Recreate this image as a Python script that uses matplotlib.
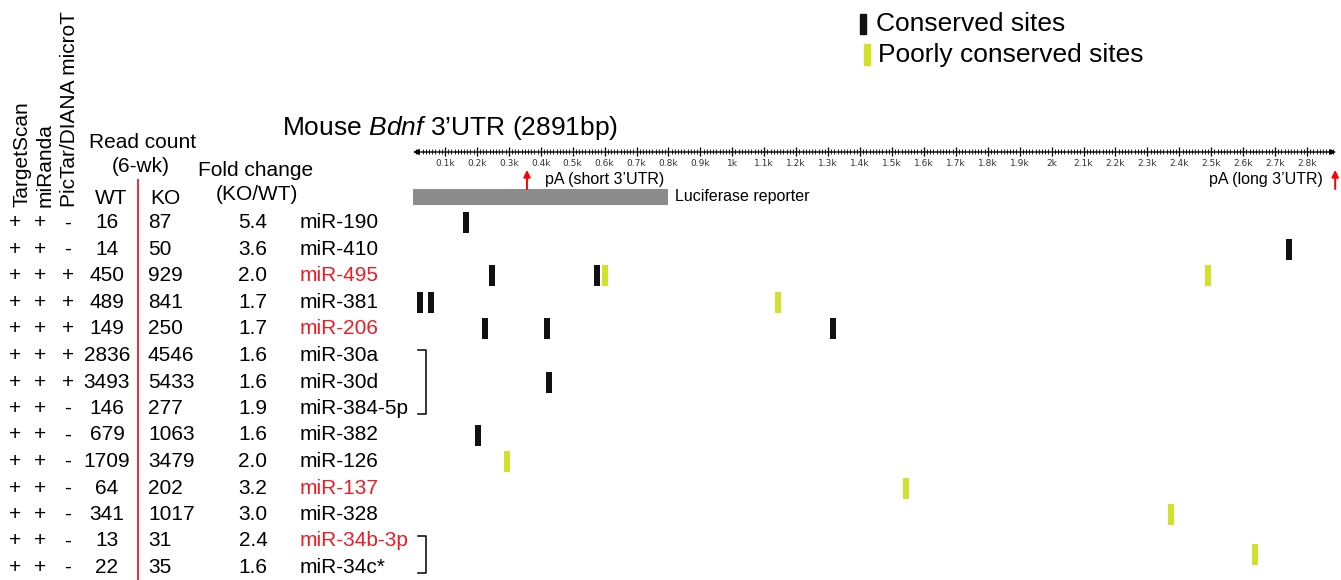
import numpy as np
import matplotlib.pyplot as plt
from matplotlib.transforms import blended_transform_factory
from matplotlib.patches import Rectangle

plt.rcParams['font.family'] = ['Liberation Sans', 'DejaVu Sans']
plt.rcParams['mathtext.fontset'] = 'custom'
plt.rcParams['mathtext.rm'] = 'Liberation Sans'
plt.rcParams['mathtext.it'] = 'Liberation Sans:italic'

# ============ data ============
mirnas = ['miR-190', 'miR-410', 'miR-495', 'miR-381', 'miR-206', 'miR-30a', 'miR-30d',
          'miR-384-5p', 'miR-382', 'miR-126', 'miR-137', 'miR-328', 'miR-34b-3p', 'miR-34c*']
target_scan = ['+'] * 14
miranda = ['+'] * 14
pictar = ['-', '-', '+', '+', '+', '+', '+', '-', '-', '-', '-', '-', '-', '-']
wt_counts = [16, 14, 450, 489, 149, 2836, 3493, 146, 679, 1709, 64, 341, 13, 22]
ko_counts = [87, 50, 929, 841, 250, 4546, 5433, 277, 1063, 3479, 202, 1017, 31, 35]
fold_change = [5.4, 3.6, 2.0, 1.7, 1.7, 1.6, 1.6, 1.9, 1.6, 2.0, 3.2, 3.0, 2.4, 1.6]
highlighted = ['miR-495', 'miR-206', 'miR-137', 'miR-34b-3p']
families = [(5, 7), (12, 13)]  # rows sharing a seed (bracketed)

utr_len = 2891
ruler_ticks = np.arange(100, 2900, 100)
ruler_labels = [f'{t / 1000:g}k' for t in ruler_ticks]
pa_sites = [357, 2888]
reporter_end = 800

# binding sites: row, position (bp), conserved?
site_row = [0, 1, 2, 2, 2, 2, 3, 3, 3, 4, 4, 4, 6, 8, 9, 10, 11, 12.5]
site_bp = [166, 2743, 247, 576, 601, 2490, 22, 56, 1143, 225, 420, 1315, 426, 204, 294, 1544, 2374, 2637]
site_cons = [1, 1, 1, 1, 0, 0, 1, 1, 0, 1, 1, 1, 1, 1, 0, 0, 0, 0]

BLACK = '#111111'
LIME = '#d2e12c'
RED = '#ee1c24'

# ============ layout ============
W, H = 1341, 580
ROW0, ROWH = 223, 26.5


def py(px):
    """pixel y -> row units"""
    return (px - ROW0) / ROWH


fig = plt.figure(figsize=(W / 100, H / 100), dpi=100)
bg = fig.add_axes([0, 0, 1, 1])
bg.set_xlim(0, W)
bg.set_ylim(H, 0)
bg.axis('off')

x0, scale = 413, 0.3193
ax = fig.add_axes([x0 / W, 0, utr_len * scale / W, 1])
ax.set_xlim(0, utr_len)
ax.set_ylim(py(H), py(0))
ax.axis('off')

tr = blended_transform_factory(bg.transData, ax.transData)

# ---- table headers ----
FS = 15
for x, lab in [(22, 'TargetScan'), (45, 'miRanda'), (70, 'PicTar/DIANA microT')]:
    bg.text(x, 207, lab, rotation=90, ha='center', va='bottom', fontsize=FS)
bg.text(143, 142, 'Read count', ha='center', va='center', fontsize=FS)
bg.text(141, 166, '(6-wk)', ha='center', va='center', fontsize=FS)
bg.text(111, 198, 'WT', ha='center', va='center', fontsize=FS)
bg.text(165, 198, 'KO', ha='center', va='center', fontsize=FS)
bg.text(256, 170, 'Fold change', ha='center', va='center', fontsize=FS)
bg.text(257, 195, '(KO/WT)', ha='center', va='center', fontsize=FS)
bg.plot([138, 138], [180, H], color=RED, lw=1.3)

# ---- table rows ----
for i, name in enumerate(mirnas):
    bg.text(15, i, target_scan[i], transform=tr, ha='center', va='center', fontsize=FS)
    bg.text(40, i, miranda[i], transform=tr, ha='center', va='center', fontsize=FS)
    bg.text(68, i, pictar[i], transform=tr, ha='center', va='center', fontsize=FS)
    bg.text(107, i, str(wt_counts[i]), transform=tr, ha='center', va='center', fontsize=FS)
    bg.text(148, i, str(ko_counts[i]), transform=tr, ha='left', va='center', fontsize=FS)
    bg.text(253, i, f'{fold_change[i]:.1f}', transform=tr, ha='center', va='center', fontsize=FS)
    bg.text(300, i, name, transform=tr, ha='left', va='center', fontsize=FS,
            color=RED if name in highlighted else 'black')

for a, b in families:
    top, bot = a - 0.2, b + 0.2
    bg.plot([418, 426, 426, 418], [top, top, bot, bot], transform=tr, color='black', lw=1.1)

# ---- title & legend ----
bg.text(282, 128, r'Mouse $\it{Bdnf}$ 3’UTR (2891bp)', ha='left', va='center', fontsize=19)
bg.add_patch(Rectangle((860, 14), 6, 20, color=BLACK))
bg.text(876, 24, 'Conserved sites', ha='left', va='center', fontsize=19)
bg.add_patch(Rectangle((864, 44), 6, 21, color=LIME))
bg.text(878, 55, 'Poorly conserved sites', ha='left', va='center', fontsize=19)

# ---- ruler ----
yr = py(152)
ax.annotate('', xy=(utr_len, yr), xytext=(0, yr),
            arrowprops=dict(arrowstyle='<|-|>', color='black', lw=1.0, mutation_scale=8,
                            shrinkA=0, shrinkB=0), annotation_clip=False)
minor = np.arange(10, utr_len, 10)
ax.vlines(minor, yr - 2.5 / ROWH, yr + 2.5 / ROWH, color='#222222', lw=0.7)
ax.vlines(ruler_ticks, yr - 4.5 / ROWH, yr + 4.5 / ROWH, color='black', lw=0.9)
for t, lab in zip(ruler_ticks, ruler_labels):
    ax.text(t, py(163.5), lab, ha='center', va='center', fontsize=6.5, family='DejaVu Sans',
            color='#333333')

# ---- pA sites and reporter ----
for bp in pa_sites:
    ax.annotate('', xy=(bp, py(170)), xytext=(bp, py(189)),
                arrowprops=dict(arrowstyle='-|>', color='red', lw=1.4, mutation_scale=10,
                                shrinkA=0, shrinkB=0), annotation_clip=False)
ax.text(pa_sites[0] + 56, py(180), 'pA (short 3’UTR)', ha='left', va='center', fontsize=11.5)
ax.text(pa_sites[1] - 38, py(180), 'pA (long 3’UTR)', ha='right', va='center', fontsize=11.5)
ax.barh(py(197), reporter_end, left=0, height=16 / ROWH, color='#8c8c8c')
ax.text(reporter_end + 20, py(197), 'Luciferase reporter', ha='left', va='center', fontsize=11.5)

# ---- binding sites ----
cols = [BLACK if c else LIME for c in site_cons]
ax.bar(site_bp, 21 / ROWH, width=6 / scale, bottom=np.array(site_row) - 10.5 / ROWH,
       color=cols, align='center')

fig.savefig('out.png', dpi=100)
